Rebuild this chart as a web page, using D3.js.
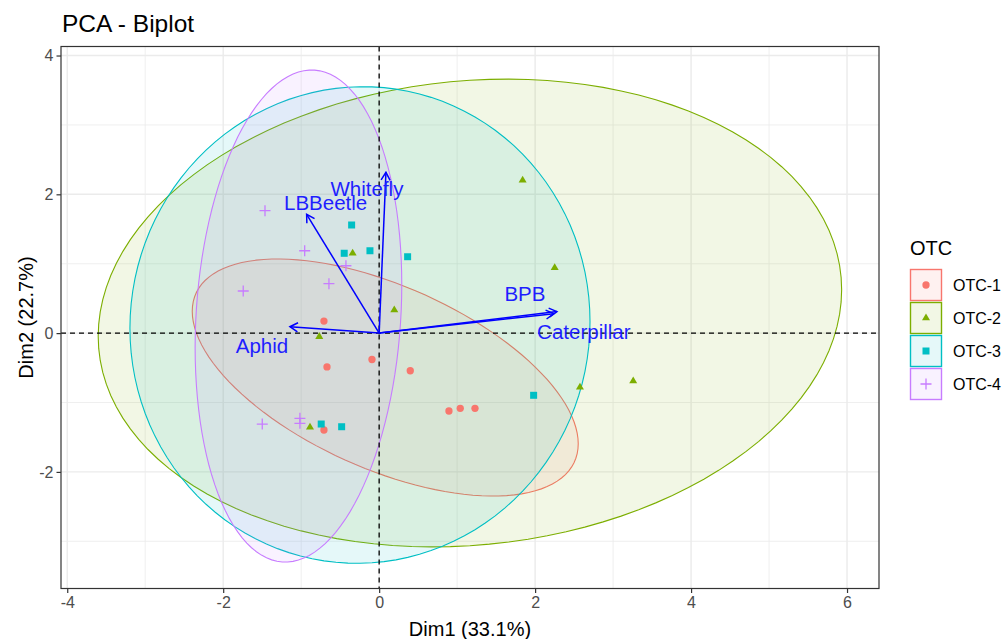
<!DOCTYPE html>
<html>
<head>
<meta charset="utf-8">
<script src="https://cdn.jsdelivr.net/npm/d3@7"></script>
<style>
  body { margin: 0; background: #fff; }
  text { font-family: "Liberation Sans", Arial, sans-serif; }
</style>
</head>
<body>
<svg id="chart" width="1005" height="639"></svg>
<script>
// ---- data -------------------------------------------------------------
const groups = ["OTC-1", "OTC-2", "OTC-3", "OTC-4"];
const groupColors = ["#F8766D", "#7CAE00", "#00BFC4", "#C77CFF"];

// individual coordinates on the first two principal components
const indDim1 = [
  -0.708, -0.669, -0.092, 0.399, 0.895, 1.040, 1.229, -0.708,
  -0.340, 0.194, -0.768, 1.840, 2.251, 2.575, 3.258, -0.887,
  -0.353, -0.448, -0.118, 0.365, 1.981, -0.743, -0.481,
  -1.464, -0.955, -0.426, -1.743, -0.644, -1.499, -1.016, -1.016
];
const indDim2 = [
  0.174, -0.487, -0.380, -0.542, -1.122, -1.084, -1.084, -1.396,
  1.150, 0.333, -0.052, 2.202, 0.942, -0.781, -0.690, -1.357,
  1.558, 1.150, 1.187, 1.101, -0.896, -1.310, -1.349,
  1.764, 1.187, 0.971, 0.607, 0.712, -1.310, -1.228, -1.300
];
const indGroup = [
  0, 0, 0, 0, 0, 0, 0, 0,
  1, 1, 1, 1, 1, 1, 1, 1,
  2, 2, 2, 2, 2, 2, 2,
  3, 3, 3, 3, 3, 3, 3, 3
];

// variable loadings (arrows)
const varNames = ["Whitefly", "LBBeetle", "Aphid", "BPB", "Caterpillar"];
const varDim1 = [0.087, -0.930, -1.144, 2.280, 2.240];
const varDim2 = [2.317, 1.712, 0.092, 0.310, 0.280];

// concentration ellipses per group
const ellCx  = [0.078, 1.164, -0.246, -1.035];
const ellCy  = [-0.640, 0.290, 0.117, 0.246];
const ellSx  = [2.475, 4.767, 2.950, 1.325];   // half extent along Dim1
const ellSy  = [1.708, 3.370, 3.434, 3.545];   // half extent along Dim2
const ellCxy = [-2.360, 1.600, 0.140, 0.600];  // shape covariance term

const xTicks = [-4, -2, 0, 2, 4, 6];
const yTicks = [-2, 0, 2, 4];
const xMinor = [-3, -1, 1, 3, 5];
const yMinor = [-3, -1, 1, 3];

// ---- layout -------------------------------------------------------------
const panel = { left: 61, right: 879, top: 46.5, bottom: 588.5 };
const x = d3.scaleLinear().domain([-4.08, 6.41]).range([panel.left, panel.right]);
const y = d3.scaleLinear().domain([-3.68, 4.13]).range([panel.bottom, panel.top]);

// label offsets (px) from each arrow tip
const varLabelOffset = [[-19, 16], [19, -12], [-28, 19], [-32, -18], [30, 18]];

const svg = d3.select("#chart");

svg.append("defs").append("clipPath").attr("id", "panel-clip")
  .append("rect")
  .attr("x", panel.left).attr("y", panel.top)
  .attr("width", panel.right - panel.left).attr("height", panel.bottom - panel.top);

// grid
const grid = svg.append("g");
grid.selectAll(".xminor").data(xMinor).join("line")
  .attr("x1", d => x(d)).attr("x2", d => x(d))
  .attr("y1", panel.top).attr("y2", panel.bottom)
  .attr("stroke", "#EBEBEB").attr("stroke-width", 0.8);
grid.selectAll(".yminor").data(yMinor).join("line")
  .attr("y1", d => y(d)).attr("y2", d => y(d))
  .attr("x1", panel.left).attr("x2", panel.right)
  .attr("stroke", "#EBEBEB").attr("stroke-width", 0.8);
grid.selectAll(".xmajor").data(xTicks).join("line")
  .attr("x1", d => x(d)).attr("x2", d => x(d))
  .attr("y1", panel.top).attr("y2", panel.bottom)
  .attr("stroke", "#EBEBEB").attr("stroke-width", 1.4);
grid.selectAll(".ymajor").data(yTicks).join("line")
  .attr("y1", d => y(d)).attr("y2", d => y(d))
  .attr("x1", panel.left).attr("x2", panel.right)
  .attr("stroke", "#EBEBEB").attr("stroke-width", 1.4);

const plot = svg.append("g").attr("clip-path", "url(#panel-clip)");

// ellipses
const ellLine = d3.line().x(p => x(p[0])).y(p => y(p[1])).curve(d3.curveLinearClosed);
function ellipsePoints(i) {
  const a = ellSx[i];
  const b = ellCxy[i] / a;
  const d = Math.sqrt(ellSy[i] * ellSy[i] - b * b);
  return d3.range(120).map(k => {
    const t = (k / 120) * 2 * Math.PI;
    return [ellCx[i] + a * Math.cos(t), ellCy[i] + b * Math.cos(t) + d * Math.sin(t)];
  });
}
plot.selectAll(".ell").data(groups).join("path")
  .attr("d", (g, i) => ellLine(ellipsePoints(i)))
  .attr("fill", (g, i) => groupColors[i]).attr("fill-opacity", 0.1)
  .attr("stroke", (g, i) => groupColors[i]).attr("stroke-width", 1.1);

// reference lines through the origin
plot.append("line")
  .attr("x1", x(0)).attr("x2", x(0)).attr("y1", panel.top).attr("y2", panel.bottom)
  .attr("stroke", "#000").attr("stroke-width", 1.3).attr("stroke-dasharray", "5,4");
plot.append("line")
  .attr("y1", y(0)).attr("y2", y(0)).attr("x1", panel.left).attr("x2", panel.right)
  .attr("stroke", "#000").attr("stroke-width", 1.3).attr("stroke-dasharray", "5,4");

// point shapes: circle, triangle, square, plus
const shapePaths = [
  d3.symbol(d3.symbolCircle, 42)(),
  "M0,-4.6L4,2.3L-4,2.3Z",
  "M-3.5,-3.5H3.5V3.5H-3.5Z",
  "M-5.5,0H5.5M0,-5.5V5.5"
];
function drawShape(sel, gi) {
  if (gi === 3) {
    sel.attr("d", shapePaths[3]).attr("fill", "none")
      .attr("stroke", groupColors[gi]).attr("stroke-width", 1.3);
  } else {
    sel.attr("d", shapePaths[gi]).attr("fill", groupColors[gi]).attr("stroke", "none");
  }
}
plot.selectAll(".pt").data(indDim1).join("path")
  .attr("transform", (d, i) => `translate(${x(indDim1[i])},${y(indDim2[i])})`)
  .each(function (d, i) { drawShape(d3.select(this), indGroup[i]); });

// variable arrows
const arrowG = plot.append("g");
varNames.forEach((name, i) => {
  const x0 = x(0), y0 = y(0), x1 = x(varDim1[i]), y1 = y(varDim2[i]);
  const ang = Math.atan2(y1 - y0, x1 - x0);
  const len = 9, spread = Math.PI / 6;
  arrowG.append("line")
    .attr("x1", x0).attr("y1", y0).attr("x2", x1).attr("y2", y1)
    .attr("stroke", "#0000FF").attr("stroke-width", 1.5);
  arrowG.append("path")
    .attr("d", `M${x1 - len * Math.cos(ang - spread)},${y1 - len * Math.sin(ang - spread)}L${x1},${y1}L${x1 - len * Math.cos(ang + spread)},${y1 - len * Math.sin(ang + spread)}`)
    .attr("fill", "none").attr("stroke", "#0000FF").attr("stroke-width", 1.5);
  arrowG.append("text")
    .attr("x", x1 + varLabelOffset[i][0]).attr("y", y1 + varLabelOffset[i][1])
    .attr("text-anchor", "middle").attr("dominant-baseline", "central")
    .attr("font-size", 20.5).attr("fill", "#1E1EFF")
    .text(name);
});

// panel border
svg.append("rect")
  .attr("x", panel.left).attr("y", panel.top)
  .attr("width", panel.right - panel.left).attr("height", panel.bottom - panel.top)
  .attr("fill", "none").attr("stroke", "#333333").attr("stroke-width", 1.2);

// axes
const xAxis = svg.append("g").attr("transform", `translate(0,${panel.bottom})`)
  .call(d3.axisBottom(x).tickValues(xTicks).tickSize(4.5).tickPadding(4).tickFormat(d3.format("d")));
const yAxis = svg.append("g").attr("transform", `translate(${panel.left},0)`)
  .call(d3.axisLeft(y).tickValues(yTicks).tickSize(4.5).tickPadding(3).tickFormat(d3.format("d")));
[xAxis, yAxis].forEach(ax => {
  ax.select(".domain").remove();
  ax.selectAll(".tick line").attr("stroke", "#333333").attr("stroke-width", 1.2);
  ax.selectAll(".tick text").attr("fill", "#4D4D4D").attr("font-size", 16)
    .attr("font-family", "Liberation Sans, Arial, sans-serif");
});
xAxis.selectAll(".tick text").text(d => d < 0 ? "-" + Math.abs(d) : d);
yAxis.selectAll(".tick text").text(d => d < 0 ? "-" + Math.abs(d) : d);

// titles
svg.append("text").attr("x", 62).attr("y", 31.5)
  .attr("font-size", 24.5).attr("fill", "#000").text("PCA - Biplot");
svg.append("text")
  .attr("x", (panel.left + panel.right) / 2).attr("y", 636)
  .attr("text-anchor", "middle").attr("font-size", 20).attr("fill", "#000")
  .text("Dim1 (33.1%)");
svg.append("text")
  .attr("transform", `translate(33,${(panel.top + panel.bottom) / 2}) rotate(-90)`)
  .attr("text-anchor", "middle").attr("font-size", 20).attr("fill", "#000")
  .text("Dim2 (22.7%)");

// legend
const legend = svg.append("g");
legend.append("text").attr("x", 910).attr("y", 255)
  .attr("font-size", 20).attr("fill", "#000").text("OTC");
const keySize = 31, keyStep = 33, keyTop = 269;
groups.forEach((g, i) => {
  const ky = keyTop + i * keyStep;
  legend.append("rect")
    .attr("x", 910.5).attr("y", ky + 0.5).attr("width", keySize).attr("height", keySize)
    .attr("fill", groupColors[i]).attr("fill-opacity", 0.1)
    .attr("stroke", groupColors[i]).attr("stroke-width", 1.4);
  drawShape(legend.append("path")
    .attr("transform", `translate(${910.5 + keySize / 2},${ky + 0.5 + keySize / 2})`), i);
  legend.append("text")
    .attr("x", 953).attr("y", ky + keySize / 2 + 1)
    .attr("dominant-baseline", "central").attr("font-size", 16).attr("fill", "#000")
    .text(g);
});
</script>
</body>
</html>
